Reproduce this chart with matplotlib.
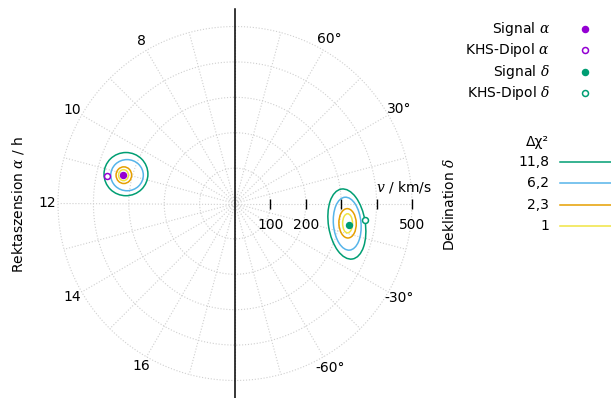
import numpy as np
import matplotlib
matplotlib.use("Agg")
import matplotlib.pyplot as plt
from matplotlib.patches import Ellipse

plt.rcParams['font.family'] = ['DejaVu Sans']
plt.rcParams['mathtext.fontset'] = 'dejavuserif'
plt.rcParams['font.size'] = 10

# --- data ---------------------------------------------------------------
# measured signal and CMB (KHS) dipole: speed in km/s, RA in h, Dec in deg
v_signal, ra_signal, dec_signal = 327, 11.06, -10.8
v_dipole, ra_dipole, dec_dipole = 369, 11.2, -7.2

# confidence contours (ellipses in the projected km/s plane)
levels = ['11,8', '6,2', '2,3', '1']
level_colors = ['#009e73', '#56b4e9', '#e69f00', '#f0e442']

ra_cx = [-308, -305, -314, -315]
ra_cy = [83, 80, 80, 80]
ra_w = [124, 92, 44, 28]
ra_h = [122, 88, 47, 31]

dec_cx = [316, 317, 318, 318]
dec_cy = [-58, -57, -56, -56]
dec_w = [104, 78, 49, 28]
dec_h = [200, 150, 83, 54]
dec_ang = [9, 5, 2, 0]

v_ticks = [100, 200, 300, 400, 500]
v_ticklabels = ['100', '200', '', '', '500']
ra_ticks = [8, 10, 12, 14, 16]
dec_ticks = [60, 30, -30, -60]

purple = '#9400d3'
green = '#009e73'
grid_col = '#cfcfcf'

# --- figure -------------------------------------------------------------
W, H = 611, 398
cx_px, cy_px, scale = 235, 203.5, 0.354   # centre in px, px per km/s

fig = plt.figure(figsize=(W / 100, H / 100), dpi=100)
ax = fig.add_axes([0, 0, 1, 1])
ax.set_xlim(-cx_px / scale, (W - cx_px) / scale)
ax.set_ylim(-(H - cy_px) / scale, cy_px / scale)
ax.axis('off')


def pol(v, deg):
    t = np.radians(deg)
    return v * np.cos(t), v * np.sin(t)


def fpx(x, y):
    return x / W, 1 - y / H


# grid
phi = np.linspace(0, 360, 400)
for r in v_ticks:
    ax.plot(*pol(r, phi), color=grid_col, lw=0.8, ls=':', zorder=1)
for a in range(0, 360, 15):
    ax.plot(*pol(np.array([0, 500]), a), color=grid_col, lw=0.8, ls=':', zorder=1)

# vertical axis line
ax.plot([0, 0], [-550, 550], color='black', lw=1.1, zorder=3)

# radial ticks
ax.plot(v_ticks, [0] * len(v_ticks), ls='none', marker='|', ms=7, mew=1,
        color='black', zorder=3)
for t, lab in zip(v_ticks, v_ticklabels):
    ax.text(t, -62, lab, ha='center', va='center')
ax.text(*fpx(376, 187), r'$v$ / km/s', transform=fig.transFigure,
        ha='left', va='center')

# angular labels
for h in ra_ticks:
    ax.text(*pol(530, 15 * h), str(h), ha='center', va='center')
for d in dec_ticks:
    ax.text(*pol(535, d), f'{d}°', ha='center', va='center')

fig.text(*fpx(18, 204), r'Rektaszension $\alpha$ / h', rotation=90,
         ha='center', va='center')
fig.text(*fpx(450, 205), r'Deklination $\delta$', rotation=90,
         ha='center', va='center')

# contours
for i in range(len(levels)):
    ax.add_patch(Ellipse((ra_cx[i], ra_cy[i]), ra_w[i], ra_h[i],
                         fill=False, ec=level_colors[i], lw=1.1, zorder=4))
    ax.add_patch(Ellipse((dec_cx[i], dec_cy[i]), dec_w[i], dec_h[i],
                         angle=dec_ang[i], fill=False, ec=level_colors[i],
                         lw=1.1, zorder=4))

# points
ax.plot(*pol(v_signal, 15 * ra_signal), 'o', color=purple, ms=4.3, zorder=5)
ax.plot(*pol(v_dipole, 15 * ra_dipole), 'o', mfc='white', mec=purple,
        ms=4.3, mew=1.1, zorder=5)
ax.plot(*pol(v_signal, dec_signal), 'o', color=green, ms=4.3, zorder=5)
ax.plot(*pol(v_dipole, dec_dipole), 'o', mfc='white', mec=green,
        ms=4.3, mew=1.1, zorder=5)

# legend, points
leg_labels = [r'Signal $\alpha$', r'KHS-Dipol $\alpha$',
              r'Signal $\delta$', r'KHS-Dipol $\delta$']
leg_fill = [purple, 'white', green, 'white']
leg_edge = [purple, purple, green, green]
for i, lab in enumerate(leg_labels):
    y = 29 + i * 21.3
    fig.text(*fpx(550, y), lab, ha='right', va='center')
    ax.plot(*fpx(585, y), 'o', mfc=leg_fill[i], mec=leg_edge[i], ms=4.3,
            mew=1.1, transform=fig.transFigure, clip_on=False)

# legend, contour levels
fig.text(*fpx(549, 142), 'Δχ²', ha='right', va='center')
for i, lab in enumerate(levels):
    y = 162 + i * 21.3
    fig.text(*fpx(549, y), lab, ha='right', va='center')
    ax.plot([560 / W, 611 / W], [1 - y / H] * 2, color=level_colors[i],
            lw=1.1, transform=fig.transFigure, clip_on=False)

fig.savefig('out.png', dpi=100)
